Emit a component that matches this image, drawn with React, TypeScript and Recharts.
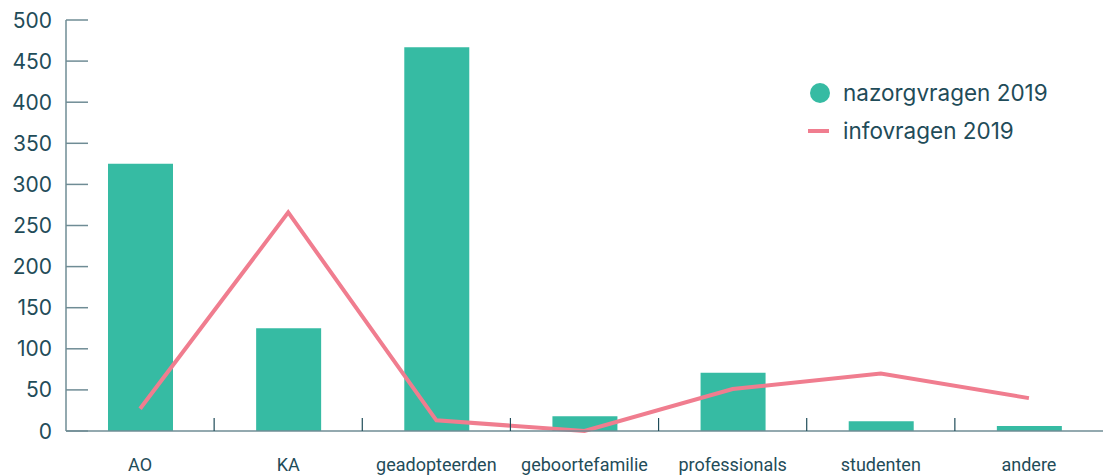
import { Bar, ComposedChart, Line, XAxis, YAxis } from 'recharts'

const categories = ['AO', 'KA', 'geadopteerden', 'geboortefamilie', 'professionals', 'studenten', 'andere']
const nazorgvragen = [325, 125, 467, 18, 71, 12, 6]
const infovragen = [27, 266, 13, 0, 51, 70, 40]
const yTicks = [0, 50, 100, 150, 200, 250, 300, 350, 400, 450, 500]

const data = categories.map((categorie, i) => ({
  categorie,
  nazorg: nazorgvragen[i],
  info: infovragen[i],
}))

const TEAL = '#36bba3'
const PINK = '#f07d8f'
const INK = '#1f4c59'
const AXIS = '#6f8c95'
const FONT = 'Inter, sans-serif'
const LABEL_FONT = 'Roboto, sans-serif'

const WIDTH = 1103
const HEIGHT = 476
const LEFT = 66
const BAND = (WIDTH - LEFT) / categories.length

const YTick = ({ x, y, payload }: { x: number; y: number; payload: { value: number } }) => (
  <g>
    <line x1={x + 14} x2={x + 36} y1={y} y2={y} stroke={AXIS} strokeWidth={1.5} />
    <text x={x} y={y} dy={7.5} textAnchor="end" fontSize={21} fill={INK} fontFamily={FONT}>
      {payload.value}
    </text>
  </g>
)

const XTick = ({ x, y, payload, index }: { x: number; y: number; payload: { value: string }; index: number }) => (
  <g>
    {index > 0 && (
      <line x1={x - BAND / 2} x2={x - BAND / 2} y1={y} y2={y - 13} stroke={INK} strokeWidth={1.2} />
    )}
    <text x={x} y={y + 40} textAnchor="middle" fontSize={18} fill={INK} fontFamily={LABEL_FONT}>
      {payload.value}
    </text>
  </g>
)

const LegendBox = () => (
  <div
    style={{
      position: 'absolute',
      top: 74,
      left: 805,
      fontFamily: FONT,
      fontSize: 22.5,
      color: INK,
      lineHeight: '38px',
    }}
  >
    <div style={{ display: 'flex', alignItems: 'center' }}>
      <span style={{ width: 20, height: 20, borderRadius: 10, background: TEAL, marginLeft: 5, marginRight: 13 }} />
      nazorgvragen 2019
    </div>
    <div style={{ display: 'flex', alignItems: 'center' }}>
      <span style={{ width: 21, height: 4, background: PINK, marginLeft: 3, marginRight: 14 }} />
      infovragen 2019
    </div>
  </div>
)

export default function App() {
  return (
    <div style={{ position: 'absolute', left: 0, top: 0, width: WIDTH, height: HEIGHT, background: '#fff' }}>
      <ComposedChart
        width={WIDTH}
        height={HEIGHT}
        data={data}
        margin={{ top: 20, right: 0, left: 0, bottom: 0 }}
      >
        <XAxis
          dataKey="categorie"
          height={45}
          tickSize={0}
          tickMargin={0}
          interval={0}
          stroke={AXIS}
          strokeWidth={1.5}
          tick={XTick}
        />
        <YAxis
          width={LEFT}
          domain={[0, 500]}
          ticks={yTicks}
          tickSize={0}
          tickMargin={14}
          interval={0}
          stroke={AXIS}
          strokeWidth={1.5}
          tick={YTick}
        />
        <Bar dataKey="nazorg" fill={TEAL} barSize={65} isAnimationActive={false} />
        <Line
          dataKey="info"
          stroke={PINK}
          strokeWidth={4}
          dot={false}
          activeDot={false}
          type="linear"
          isAnimationActive={false}
        />
      </ComposedChart>
      <LegendBox />
    </div>
  )
}
